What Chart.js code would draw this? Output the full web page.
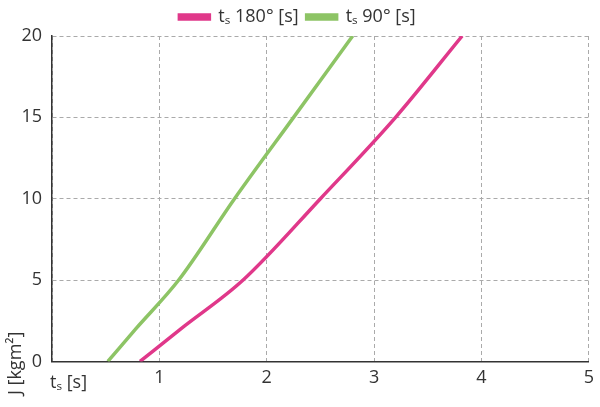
<!DOCTYPE html>
<html><head><meta charset="utf-8">
<script src="https://cdn.jsdelivr.net/npm/chart.js@4/dist/chart.umd.min.js"></script>
<style>html,body{margin:0;background:#fff}#w{width:600px;height:407px}</style>
</head><body><div id="w"><canvas id="c"></canvas></div>
<script>
const xTicks = [0, 1, 2, 3, 4, 5];
const yTicks = [0, 5, 10, 15, 20];
const pinkX = [0.82, 1.2, 1.78, 2.5, 3.2, 3.82];
const pinkY = [0, 2, 5, 10, 15, 20];
const greenX = [0.52, 0.78, 1.18, 1.7, 2.25, 2.8];
const greenY = [0, 2, 5, 10, 15, 20];

const pts = (xs, ys) => xs.map((x, i) => ({ x, y: ys[i] }));
const font = { family: 'Open Sans', size: 18 };

const titles = {
  id: 'titles',
  afterDraw(chart) {
    const ctx = chart.ctx;
    ctx.save();
    ctx.fillStyle = '#333';
    ctx.font = '18px "Open Sans"';
    ctx.textBaseline = 'middle';
    ctx.fillText('tₛ [s]', 50, 383);
    ctx.translate(16, 395);
    ctx.rotate(-Math.PI / 2);
    ctx.fillText('J [kgm²]', 0, 0);
    ctx.restore();
  }
};

new Chart(document.getElementById('c'), {
  type: 'line',
  data: {
    datasets: [
      { label: 'tₛ 180° [s]', data: pts(pinkX, pinkY), borderColor: '#e0388a', backgroundColor: '#e0388a', borderWidth: 3.5, pointRadius: 0, cubicInterpolationMode: 'monotone' },
      { label: 'tₛ 90° [s]', data: pts(greenX, greenY), borderColor: '#8dc465', backgroundColor: '#8dc465', borderWidth: 3.5, pointRadius: 0, cubicInterpolationMode: 'monotone' }
    ]
  },
  plugins: [titles],
  options: {
    responsive: true, maintainAspectRatio: false, animation: false,
    layout: { padding: { top: 0, right: 5, bottom: 12, left: 0 } },
    plugins: {
      tooltip: { enabled: false },
      legend: {
        labels: { font, color: '#333', boxWidth: 30, boxHeight: 4, padding: 8 }
      }
    },
    scales: {
      x: {
        type: 'linear', min: 0, max: 5,
        afterBuildTicks: (a) => { a.ticks = xTicks.map(v => ({ value: v })); },
        ticks: { font, color: '#333', padding: 6, callback: v => v === 0 ? '' : v },
        grid: { color: '#aaa', drawTicks: false },
        border: { color: '#333', width: 1.5, dash: [4, 3] }
      },
      y: {
        min: 0, max: 20,
        afterBuildTicks: (a) => { a.ticks = yTicks.map(v => ({ value: v })); },
        afterFit: (a) => { a.width = 52; },
        ticks: { font, color: '#333', padding: 10 },
        grid: { color: '#aaa', drawTicks: false },
        border: { color: '#333', width: 1.5, dash: [4, 3] }
      }
    }
  }
});
</script>
</body></html>
